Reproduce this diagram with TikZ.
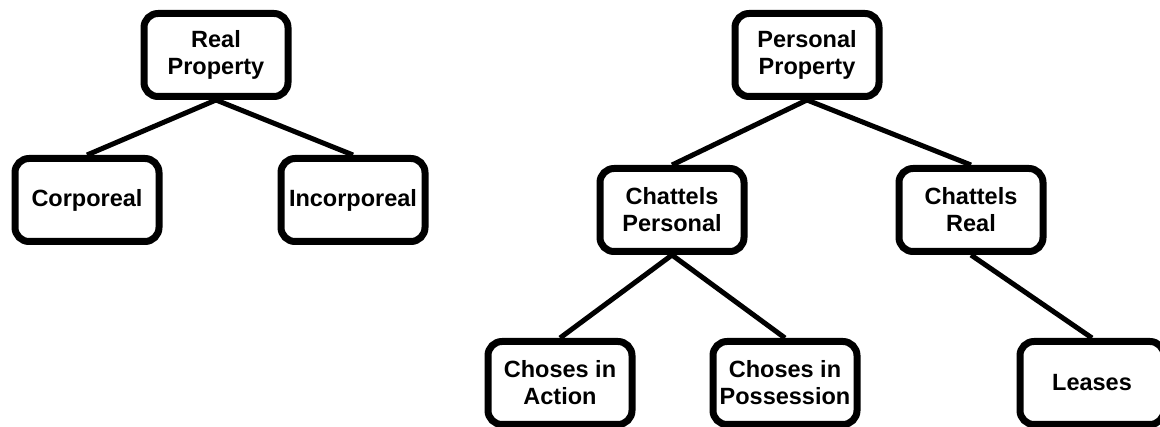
\documentclass[tikz,border=0pt]{standalone}
\usepackage{fontspec}
\setmainfont{Liberation Sans}
\usetikzlibrary{positioning}

\tikzset{
	propbox/.style={draw, line width=7pt, rounded corners=14pt, minimum width=144pt, minimum height=83pt,
		inner sep=0pt, align=center, font=\fontsize{23.5}{27}\selectfont\bfseries},
	branch/.style={line width=5pt}
}

\begin{document}
\begin{tikzpicture}[x=1pt,y=-1pt]
	\useasboundingbox (0,0) rectangle (1160,427);
	
	\node[propbox] (RP) at (216,55) {Real\\Property};
	\node[propbox] (CO) at (87,200) {Corporeal};
	\node[propbox] (IN) at (353,200) {Incorporeal};
	
	\node[propbox] (PP) at (807,55) {Personal\\Property};
	\node[propbox] (CP) at (672,210) {Chattels\\Personal};
	\node[propbox] (CR) at (971,210) {Chattels\\Real};
	\node[propbox] (CA) at (560,383) {Choses in\\Action};
	\node[propbox] (CPo) at (785,383) {Choses in\\Possession};
	\node[propbox] (LE) at (1092,383) {Leases};
	
	\draw[branch](RP.south)--(CO.north);
	\draw[branch](RP.south)--(IN.north);
	\draw[branch](PP.south)--(CP.north);
	\draw[branch](PP.south)--(CR.north);
	\draw[branch](CP.south)--(CA.north);
	\draw[branch](CP.south)--(CPo.north);
	\draw[branch](CR.south)--(LE.north);
	
\end{tikzpicture}
\end{document}
